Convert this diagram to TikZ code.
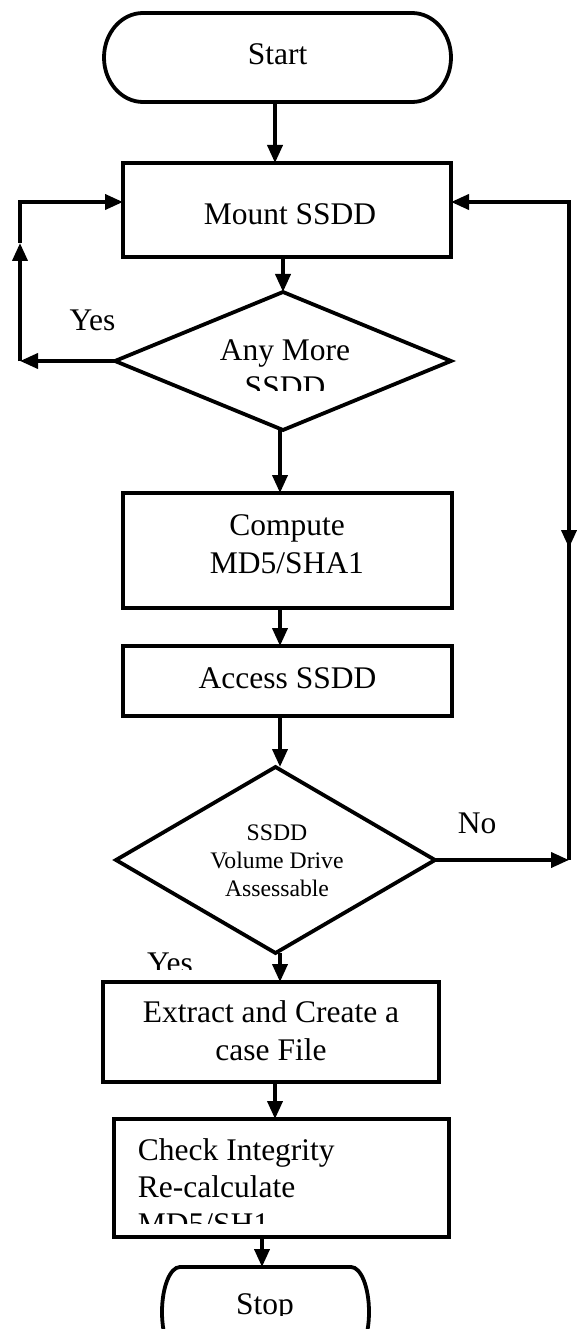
\documentclass[tikz,border=0pt]{standalone}
\usepackage{fontspec}
\setmainfont{Liberation Serif}
\usetikzlibrary{arrows.meta,shapes.geometric}

\begin{document}
\begin{tikzpicture}[x=1pt,y=-1pt,
  line width=3.8pt,
  shapebox/.style={rectangle, inner sep=0pt, outer sep=0pt},
  box/.style={draw, rectangle, inner sep=0pt, outer sep=0pt},
  dia/.style={draw, diamond, inner sep=0pt, outer sep=0pt},
  txt/.style={font=\fontsize{31.5}{37}\selectfont, inner sep=0pt, anchor=base},
  smalltxt/.style={font=\fontsize{23.7}{28}\selectfont, inner sep=0pt, anchor=base},
  arr/.style={-{Triangle[length=18pt,width=15pt]}},
  line join=miter]

\useasboundingbox (0,0) rectangle (577,1329);
\clip (0,0) rectangle (577,1329);

% ---------- shapes ----------
\node[shapebox, minimum width=347pt, minimum height=89pt] (start) at (277.5,57.5) {};
\draw ([xshift=39pt]start.north west) -- ([xshift=-39pt]start.north east)
  arc[start angle=90, end angle=-90, x radius=39pt, y radius=44.5pt]
  -- ([xshift=39pt]start.south west)
  arc[start angle=270, end angle=90, x radius=39pt, y radius=44.5pt] -- cycle;

\node[box, minimum width=328pt, minimum height=94pt] (mount) at (287,210) {};
\node[dia, minimum width=336pt, minimum height=138pt] (dia1) at (283,361) {};
\node[box, minimum width=329pt, minimum height=115pt] (compute) at (287.5,550.5) {};
\node[box, minimum width=329pt, minimum height=70pt] (access) at (287.5,681) {};
\node[dia, minimum width=319pt, minimum height=186pt] (dia2) at (275.5,860) {};
\node[box, minimum width=336pt, minimum height=100pt] (extract) at (271,1032) {};
\node[box, minimum width=335pt, minimum height=118pt] (check) at (281.5,1178) {};

\node[shapebox, minimum width=207pt, minimum height=90pt] (stop) at (265.5,1312) {};
\draw ([xshift=18pt]stop.north west) -- ([xshift=-18pt]stop.north east)
  arc[start angle=90, end angle=-90, x radius=18pt, y radius=45pt]
  -- ([xshift=18pt]stop.south west)
  arc[start angle=270, end angle=90, x radius=18pt, y radius=45pt] -- cycle;

% ---------- texts ----------
\node[txt] (tstart) at (277.5,65) {Start};
\node[txt] (tmount) at (290,225) {Mount SSDD};
\node[txt] (tany) at (285,360) {Any More};
\begin{scope}
  \clip (150,370) rectangle (420,390);
  \node[txt] (tssdd1) at (285,397) {SSDD};
\end{scope}
\node[txt] (tcomp1) at (287,535) {Compute};
\node[txt] (tcomp2) at (287,573) {MD5/SHA1};
\node[txt] (taccess) at (287.5,688) {Access SSDD};
\node[smalltxt] (tv1) at (277,840) {SSDD};
\node[smalltxt] (tv2) at (277,868) {Volume Drive};
\node[smalltxt] (tv3) at (277,896) {Assessable};
\node[txt] (tex1) at (271,1022) {Extract and Create a};
\node[txt] (tex2) at (271,1060) {case File};
\node[txt, anchor=base west] (tch1) at (136,1160) {Check Integrity};
\node[txt, anchor=base west] (tch2) at (136,1197) {Re-calculate};
\begin{scope}
  \clip (120,1205) rectangle (440,1223);
  \node[txt, anchor=base west] (tch3) at (136,1234) {MD5/SH1};
\end{scope}
\begin{scope}
  \clip (200,1280) rectangle (340,1315);
  \node[txt] (tstop) at (265,1314) {Stop};
\end{scope}
\node[txt] (tyes1) at (92.5,330) {Yes};
\begin{scope}
  \clip (130,940) rectangle (210,969);
  \node[txt] (tyes2) at (170,973) {Yes};
\end{scope}
\node[txt] (tno) at (477,833) {No};

% ---------- connector points ----------
\coordinate (lc1) at (20,361);
\coordinate (lmid) at (20,243);
\coordinate (lc2) at (20,202);
\coordinate (rc2) at (569,202);
\coordinate (rmid) at (569,548);
\coordinate (rc1) at (569,860);

% ---------- connectors ----------
\draw[arr] ([xshift=-2.5pt]start.south) -- ([xshift=-2.5pt]start.south |- mount.north);
\draw[arr] (dia1.north |- mount.south) -- (dia1.north);
\draw[arr] (dia1.west) -- (lc1);
\draw[arr] (lc1) -- (lmid);
\draw[arr] (lmid) -- (lc2) -- (mount.west |- lc2);
\draw[arr] (rmid) -- (rc2) -- (mount.east |- rc2);
\draw[arr] (rc2) -- (rmid);
\draw (rmid) -- (rc1);
\draw[arr] (dia2.east) -- (rc1);
\draw[arr] ([xshift=-3pt]dia1.south) -- ([xshift=-3pt]dia1.south |- compute.north);
\draw[arr] ([xshift=-7.5pt]compute.south) -- ([xshift=-7.5pt]access.north);
\draw[arr] ([xshift=-7.5pt]access.south) -- ([xshift=-7.5pt]access.south |- dia2.north);
\draw[arr] ([xshift=4.5pt]dia2.south) -- ([xshift=4.5pt]dia2.south |- extract.north);
\draw[arr] ([xshift=4pt]extract.south) -- ([xshift=4pt]extract.south |- check.north);
\draw[arr] ([xshift=-19.5pt]check.south) -- ([xshift=-19.5pt]check.south |- stop.north);
\end{tikzpicture}
\end{document}
